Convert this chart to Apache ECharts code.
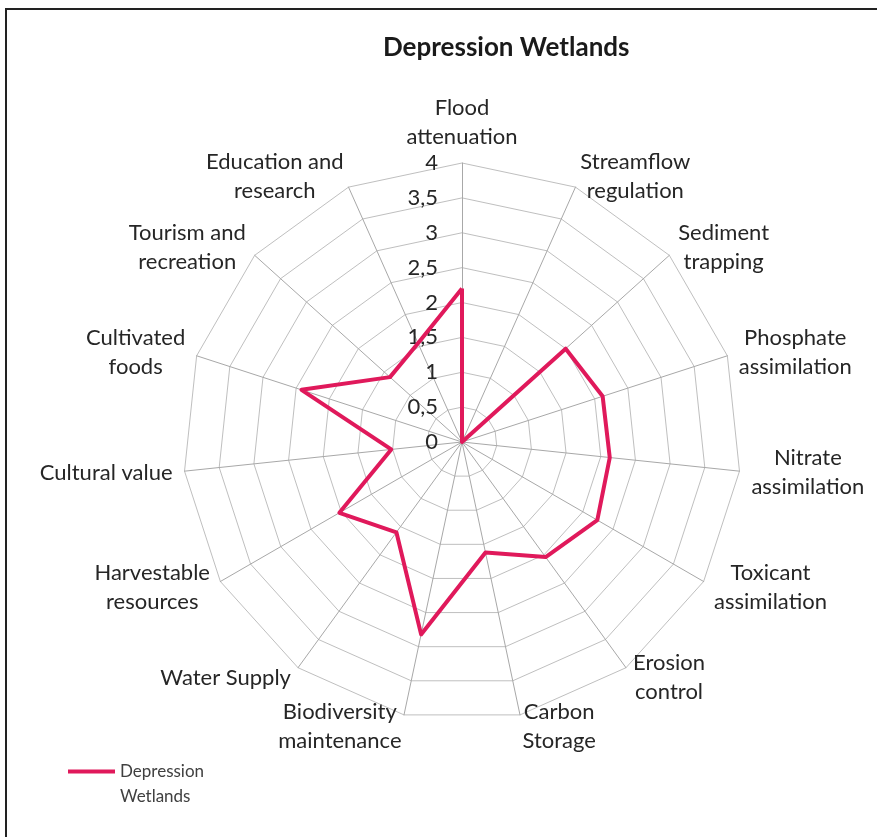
<!DOCTYPE html>
<html>
<head>
<meta charset="utf-8">
<script src="https://cdn.jsdelivr.net/npm/echarts@6/dist/echarts.min.js"></script>
<style>
  html, body { margin: 0; padding: 0; background: #fff; }
  #chart { width: 877px; height: 837px; }
</style>
</head>
<body>
<div id="chart"></div>
<script>
// Categories in clockwise order starting at top
const categories = [
  'Flood\nattenuation',
  'Streamflow\nregulation',
  'Sediment\ntrapping',
  'Phosphate\nassimilation',
  'Nitrate\nassimilation',
  'Toxicant\nassimilation',
  'Erosion\ncontrol',
  'Carbon\nStorage',
  'Biodiversity\nmaintenance',
  'Water Supply',
  'Harvestable\nresources',
  'Cultural value',
  'Cultivated\nfoods',
  'Tourism and\nrecreation',
  'Education and\nresearch'
];
const seriesName = 'Depression Wetlands';
const values = [2.2, 0, 2.0, 2.12, 2.13, 2.24, 2.04, 1.62, 2.82, 1.6, 2.03, 1.02, 2.42, 1.39, 1.55];
const axisMax = 4;
const axisSplits = 8;

// ECharts radar lays indicators counter-clockwise; reverse all but the first to get clockwise order
const order = [0].concat(categories.map((_, i) => i).slice(1).reverse());
const fmt = v => String(v).replace('.', ',');

const indicators = order.map((idx, k) => {
  const ind = { name: categories[idx], min: 0, max: axisMax };
  if (k === 0) {
    ind.axisLabel = { show: true, formatter: fmt, color: '#262626', fontSize: 22, fontFamily: 'Lato', margin: 24 };
  }
  return ind;
});
const orderedValues = order.map(idx => values[idx]);

const nameStyle = { color: '#262626', fontFamily: 'Lato', fontSize: 22, lineHeight: 29 };

const chart = echarts.init(document.getElementById('chart'));
chart.setOption({
  backgroundColor: '#ffffff',
  animation: false,
  title: {
    text: 'Depression Wetlands',
    left: 378, top: 30,
    textStyle: { fontFamily: 'Lato', fontWeight: 'bold', fontSize: 26, color: '#1a1a1a' }
  },
  legend: {
    left: 63, top: 729,
    itemWidth: 47, itemHeight: 4, itemGap: 2,
    icon: 'rect',
    data: [seriesName],
    formatter: () => ' \nDepression\nWetlands',
    textStyle: { fontFamily: 'Lato', fontSize: 17, color: '#404040', lineHeight: 25 }
  },
  radar: {
    center: [462, 442],
    radius: 279,
    startAngle: 90,
    shape: 'polygon',
    splitNumber: axisSplits,
    indicator: indicators,
    nameGap: 12,
    axisName: Object.assign({
      formatter: name => name.split('\n').map(s => '{c|' + s + '}').join('\n'),
      rich: { c: Object.assign({ align: 'center' }, nameStyle) }
    }, nameStyle),
    axisLine: { lineStyle: { color: '#a8a8a8', width: 1 } },
    splitLine: { lineStyle: { color: '#bfbfbf', width: 1 } },
    splitArea: { show: false },
    axisLabel: { show: false },
    axisTick: { show: false }
  },
  series: [{
    type: 'radar',
    name: seriesName,
    symbol: 'none',
    color: '#E0195B',
    lineStyle: { width: 4, color: '#E0195B' },
    data: [{ value: orderedValues, name: seriesName }]
  }],
  graphic: [{
    type: 'rect',
    shape: { x: 6, y: 9, width: 1000, height: 1000 },
    style: { fill: 'none', stroke: '#222', lineWidth: 2 },
    silent: true
  }]
});
</script>
</body>
</html>
